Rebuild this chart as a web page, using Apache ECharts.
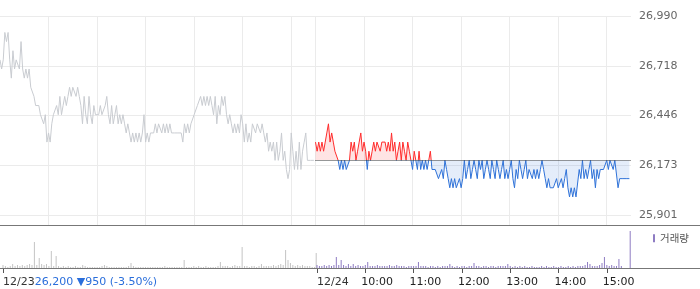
<!DOCTYPE html>
<html><head><meta charset="utf-8">
<script src="https://cdn.jsdelivr.net/npm/echarts@6/dist/echarts.min.js"></script>
<style>html,body{margin:0;padding:0;background:#fff}#c{width:700px;height:289px}</style>
</head><body><div id="c"></div>
<script>
// 12/23 prices, sampled every 2 minutes from 09:00
const day1Prices = [
26750,26700,26750,26900,26850,26900,26750,26650,26800,26700,
26750,26750,26700,26850,26700,26650,26700,26650,26700,26600,
26600,26550,26500,26500,26500,26450,26450,26400,26450,26300,
26350,26300,26400,26450,26450,26500,26450,26550,26450,26500,
26550,26500,26550,26600,26550,26600,26600,26550,26600,26550,
26500,26400,26550,26450,26400,26550,26450,26400,26500,26450,
26450,26450,26500,26450,26450,26500,26550,26450,26400,26500,
26400,26450,26500,26400,26450,26400,26450,26400,26350,26400,
26350,26300,26350,26300,26350,26300,26350,26300,26350,26450,
26300,26350,26300,26350,26350,26350,26400,26350,26400,26400,
26350,26400,26350,26400,26350,26400,26350,26350,26350,26350,
26350,26350,26350,26300,26400,26350,26400,26350,26400,26400,
26450,26450,26500,26500,26550,26500,26550,26500,26550,26500,
26550,26500,26450,26550,26400,26500,26450,26550,26500,26550,
26450,26400,26450,26400,26350,26400,26350,26400,26350,26450,
26400,26300,26400,26300,26350,26300,26400,26400,26350,26400,
26400,26350,26400,26350,26300,26350,26250,26300,26250,26300,
26200,26300,26200,26250,26350,26200,26250,26150,26100,26150,
26350,26250,26150,26250,26150,26300,26150,26250,26300,26350,
26200,26200,26200,26200,26200];
// 12/24 prices, sampled every 2 minutes from 09:00
const day2Prices = [
26300,26250,26300,26250,26300,26250,26300,26350,26400,26300,
26350,26300,26250,26250,26200,26150,26200,26150,26200,26150,
26150,26200,26300,26250,26300,26200,26250,26300,26350,26250,
26300,26250,26150,26250,26200,26250,26300,26250,26300,26300,
26250,26300,26300,26300,26250,26300,26250,26350,26250,26300,
26200,26250,26300,26200,26300,26250,26200,26300,26250,26200,
26150,26250,26200,26150,26250,26150,26200,26150,26200,26150,
26200,26250,26150,26150,26150,26150,26100,26100,26150,26100,
26200,26150,26100,26050,26100,26050,26100,26050,26050,26100,
26050,26100,26200,26100,26150,26200,26100,26150,26200,26150,
26100,26200,26150,26200,26100,26150,26200,26150,26100,26200,
26150,26100,26200,26150,26100,26150,26200,26100,26150,26100,
26150,26200,26100,26050,26150,26100,26200,26150,26100,26150,
26200,26100,26150,26150,26100,26150,26100,26150,26100,26150,
26200,26150,26100,26050,26100,26050,26050,26050,26050,26100,
26050,26050,26100,26050,26100,26150,26050,26000,26050,26000,
26050,26000,26000,26150,26100,26200,26100,26150,26100,26150,
26200,26100,26150,26050,26150,26100,26150,26150,26150,26150,
26200,26150,26200,26200,26150,26200,26200,26050,26100,26100,
26100,26100,26100,26100,26100];
// volume per 3-minute bucket
const day1Vol = [
300,200,100,200,400,200,300,200,300,200, 300,400,300,2600,300,1000,400,300,400,200,
1700,200,1200,200,100,200,100,200,100,100, 200,100,100,300,200,100,100,100,100,100,
100,200,300,200,100,100,100,100,100,100, 100,100,200,500,200,100,100,100,100,100,
100,100,100,100,100,100,100,200,100,100, 100,100,100,100,100,800,100,100,100,200,
100,200,100,100,200,100,100,100,100,200, 600,200,200,200,100,200,300,200,200,2100,
200,200,100,200,200,100,200,400,200,200, 200,200,300,200,300,400,300,1800,800,500,
300,200,300,200,300,200,200,200,100,100];
const day2Vol = [
300,200,200,300,200,300,200,300,1100,300, 800,300,200,400,200,400,200,300,200,200,
300,600,200,200,200,300,200,200,200,200, 300,200,200,300,200,200,200,100,200,200,
200,200,600,200,200,200,100,200,200,100, 200,100,200,200,200,400,200,100,200,100,
200,200,100,200,200,500,200,200,100,200, 200,100,200,200,100,200,200,200,200,400,
200,100,200,100,200,100,200,100,100,200, 100,100,100,200,100,200,100,100,200,100,
100,200,100,100,200,100,200,100,200,200, 200,300,600,400,200,200,200,300,500,1100,
300,200,300,200,200,900,200,0,0,0];
const day1CloseVol = 1500;
const day2CloseVol = 3700;
const baseline = 26200;
const yTicks = [25901, 26173, 26446, 26718, 26990];
const xTickIdx = [0, 390, 450, 510, 570, 630, 690, 750];
const xTickLabels = ['12/23', '12/24', '10:00', '11:00', '12:00', '13:00', '14:00', '15:00'];
const vGridIdx = [60, 120, 180, 240, 300, 360, 390, 450, 510, 570, 630, 690, 750];
const headerText = '26,200 ▼950 (-3.50%)';
const volName = '거래량';

const cats = Array.from({length: 781}, (_, i) => String(i));
const RED = '#ff2b2b', BLUE = '#2f72d8';
const font = 'DejaVu Sans';

const chart = echarts.init(document.getElementById('c'));
chart.setOption({
  animation: false,
  grid: [
    {left: 0, right: 69, top: 16, height: 199},
    {left: 0, right: 69, top: 16, height: 209},
    {left: 0, right: 69, top: 226, height: 42}
  ],
  xAxis: [
    {gridIndex: 0, type: 'category', data: cats, boundaryGap: false, show: false},
    {gridIndex: 1, type: 'category', data: cats, boundaryGap: false,
     axisLine: {show: false}, axisTick: {show: false}, axisLabel: {show: false},
     splitLine: {show: true, interval: (i) => vGridIdx.includes(i), lineStyle: {color: '#ebebeb', width: 1}}},
    {gridIndex: 2, type: 'category', data: cats, boundaryGap: false,
     axisLine: {show: false},
     axisTick: {show: true, interval: (i) => xTickIdx.includes(i), length: 5, lineStyle: {color: '#555'}},
     axisLabel: {show: true, interval: (i) => xTickIdx.includes(i), align: 'left', margin: 9,
       color: '#333', fontFamily: font, fontSize: 11,
       formatter: (v, i) => {
         const p = xTickIdx.indexOf(Number(v));
         if (p === 0) return xTickLabels[0] + '{b|' + headerText + '}';
         if (p === 1) return xTickLabels[1];
         return p >= 0 ? '{h|' + xTickLabels[p] + '}' : '';
       },
       rich: {
         b: {color: '#2a6edb', fontFamily: font, fontSize: 11},
         h: {color: '#222', fontFamily: font, fontSize: 11, padding: [0, 0, 0, -4]}
       }},
     splitLine: {show: false}}
  ],
  yAxis: [
    {gridIndex: 0, type: 'value', position: 'right', min: yTicks[0], max: yTicks[4],
     interval: (yTicks[4] - yTicks[0]) / 4,
     axisLine: {show: false}, axisTick: {show: false},
     axisLabel: {margin: 8, color: '#666', fontFamily: font, fontSize: 11,
       formatter: (v) => Math.round(v).toLocaleString('en-US')},
     splitLine: {show: true, lineStyle: {color: '#ebebeb', width: 1}}},
    {gridIndex: 1, type: 'value', show: false, min: 0, max: 1},
    {gridIndex: 2, type: 'value', show: false, min: 0, max: 4200}
  ],
  visualMap: {type: 'piecewise', show: false, seriesIndex: 1, dimension: 1,
    pieces: [{gte: 20000, lt: baseline, color: BLUE}, {gte: baseline, lte: 40000, color: RED}]},
  legend: {data: [volName], left: 653, top: 233, itemWidth: 2, itemHeight: 8, icon: 'rect',
    padding: 0, selectedMode: false,
    textStyle: {fontFamily: 'Noto Sans CJK KR', fontSize: 10.5, color: '#555'}},
  graphic: [
    {type: 'line', shape: {x1: 0, y1: 225.5, x2: 700, y2: 225.5}, style: {stroke: '#777', lineWidth: 1}, z: 10},
    {type: 'line', shape: {x1: 0, y1: 268.5, x2: 700, y2: 268.5}, style: {stroke: '#777', lineWidth: 1}, z: 10}
  ],
  series: [
    {type: 'line', xAxisIndex: 0, yAxisIndex: 0, symbol: 'none',
     data: day1Prices.map((p, k) => [2 * k, p]),
     lineStyle: {color: '#c9ccd1', width: 1}},
    {type: 'line', xAxisIndex: 0, yAxisIndex: 0, symbol: 'none',
     data: day2Prices.map((p, k) => [390 + 2 * k, p]),
     lineStyle: {width: 1},
     areaStyle: {origin: baseline, opacity: 0.13},
     markLine: {silent: true, symbol: ['none', 'none'], label: {show: false},
       lineStyle: {type: 'dotted', color: '#333', width: 1},
       data: [[{coord: [390, baseline]}, {coord: [780, baseline]}]]}},
    {type: 'bar', xAxisIndex: 2, yAxisIndex: 2, barWidth: 1, barGap: '-100%',
     itemStyle: {color: '#c4c4c4'},
     data: day1Vol.map((v, j) => [3 * j, v]).concat([[389, day1CloseVol]])},
    {type: 'bar', name: volName, xAxisIndex: 2, yAxisIndex: 2, barWidth: 1, barGap: '-100%',
     itemStyle: {color: '#8e7cc3'},
     data: day2Vol.map((v, j) => [390 + 3 * j, v]).concat([[779, day2CloseVol]])}
  ]
});
</script></body></html>
